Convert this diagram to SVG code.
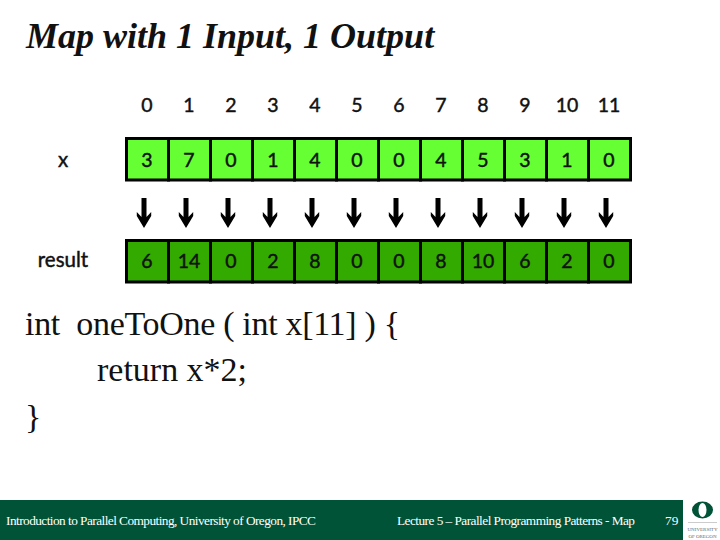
<svg xmlns="http://www.w3.org/2000/svg" width="720" height="540" viewBox="0 0 720 540">
<style>
text{font-family:"Lato","Open Sans",sans-serif;fill:#111}
.n{font-size:19.500px;text-anchor:middle;stroke:#111;stroke-width:.45px}
.c{font-size:19.500px;text-anchor:middle;stroke:#111;stroke-width:.45px}
.l{font-size:20.500px;text-anchor:middle;stroke:#111;stroke-width:.45px}
.a{fill:#6f3;stroke:#000;stroke-width:3}
.b{fill:#3a0;stroke:#000;stroke-width:3}
.code{font-size:34px;font-family:"Liberation Serif",serif}
.f{font-family:"Liberation Serif",serif;fill:#fff;font-size:13.3px}
.ar{fill:#000}
.lg{font-family:"Liberation Serif",serif;font-size:5px;fill:#666;text-anchor:middle}
</style>
<defs>
<path id="arrow" d="M-2.500-15H2.500V4L7.200-1V3L0 15L-7.200 3V-1L-2.500 4Z"/>
</defs>
<rect width="720" height="540" fill="#fff"/>
<text x="26" y="48" style="font-family:'Liberation Serif',serif;font-style:italic;font-weight:700;font-size:36px" fill="#111">Map with 1 Input, 1 Output</text>
<g id="index-labels">
<text class="n" x="147" y="112">0</text><text class="n" x="189" y="112">1</text><text class="n" x="231" y="112">2</text><text class="n" x="273" y="112">3</text><text class="n" x="315" y="112">4</text><text class="n" x="357" y="112">5</text><text class="n" x="399" y="112">6</text><text class="n" x="441" y="112">7</text><text class="n" x="483" y="112">8</text><text class="n" x="525" y="112">9</text><text class="n" x="567" y="112">10</text><text class="n" x="609" y="112">11</text>
</g>
<g id="label-x"><text class="l" x="63" y="167">x</text></g>
<g id="label-result"><text class="l" x="63" y="267">result</text></g>
<g id="row-x">
<rect class="a" x="126.500" y="138.500" width="42" height="41.500"/><rect class="a" x="168.500" y="138.500" width="42" height="41.500"/><rect class="a" x="210.500" y="138.500" width="42" height="41.500"/><rect class="a" x="252.500" y="138.500" width="42" height="41.500"/><rect class="a" x="294.500" y="138.500" width="42" height="41.500"/><rect class="a" x="336.500" y="138.500" width="42" height="41.500"/><rect class="a" x="378.500" y="138.500" width="42" height="41.500"/><rect class="a" x="420.500" y="138.500" width="42" height="41.500"/><rect class="a" x="462.500" y="138.500" width="42" height="41.500"/><rect class="a" x="504.500" y="138.500" width="42" height="41.500"/><rect class="a" x="546.500" y="138.500" width="42" height="41.500"/><rect class="a" x="588.500" y="138.500" width="42" height="41.500"/>
<text class="c" x="147" y="167">3</text><text class="c" x="189" y="167">7</text><text class="c" x="231" y="167">0</text><text class="c" x="273" y="167">1</text><text class="c" x="315" y="167">4</text><text class="c" x="357" y="167">0</text><text class="c" x="399" y="167">0</text><text class="c" x="441" y="167">4</text><text class="c" x="483" y="167">5</text><text class="c" x="525" y="167">3</text><text class="c" x="567" y="167">1</text><text class="c" x="609" y="167">0</text>
</g>
<g id="connectors" class="ar">
<use href="#arrow" x="144" y="213"/><use href="#arrow" x="186" y="213"/><use href="#arrow" x="228" y="213"/><use href="#arrow" x="270" y="213"/><use href="#arrow" x="312" y="213"/><use href="#arrow" x="354" y="213"/><use href="#arrow" x="396" y="213"/><use href="#arrow" x="438" y="213"/><use href="#arrow" x="480" y="213"/><use href="#arrow" x="522" y="213"/><use href="#arrow" x="564" y="213"/><use href="#arrow" x="606" y="213"/>
</g>
<g id="row-result">
<rect class="b" x="126.500" y="240.500" width="42" height="41.500"/><rect class="b" x="168.500" y="240.500" width="42" height="41.500"/><rect class="b" x="210.500" y="240.500" width="42" height="41.500"/><rect class="b" x="252.500" y="240.500" width="42" height="41.500"/><rect class="b" x="294.500" y="240.500" width="42" height="41.500"/><rect class="b" x="336.500" y="240.500" width="42" height="41.500"/><rect class="b" x="378.500" y="240.500" width="42" height="41.500"/><rect class="b" x="420.500" y="240.500" width="42" height="41.500"/><rect class="b" x="462.500" y="240.500" width="42" height="41.500"/><rect class="b" x="504.500" y="240.500" width="42" height="41.500"/><rect class="b" x="546.500" y="240.500" width="42" height="41.500"/><rect class="b" x="588.500" y="240.500" width="42" height="41.500"/>
<text class="c" x="147" y="268">6</text><text class="c" x="189" y="268">14</text><text class="c" x="231" y="268">0</text><text class="c" x="273" y="268">2</text><text class="c" x="315" y="268">8</text><text class="c" x="357" y="268">0</text><text class="c" x="399" y="268">0</text><text class="c" x="441" y="268">8</text><text class="c" x="483" y="268">10</text><text class="c" x="525" y="268">6</text><text class="c" x="567" y="268">2</text><text class="c" x="609" y="268">0</text>
</g>
<g id="code">
<text class="code" x="25" y="335" xml:space="preserve" textLength="375">int  oneToOne ( int x[11] ) {</text>
<text class="code" x="97" y="381" textLength="150">return x*2;</text>
<text class="code" x="25" y="428">}</text>
</g>
<g id="footer">
<rect x="0" y="500" width="683" height="40" fill="#005336"/>
<text class="f" x="6" y="525" textLength="310">Introduction to Parallel Computing, University of Oregon, IPCC</text>
<text class="f" x="397" y="525" textLength="238">Lecture 5 – Parallel Programming Patterns - Map</text>
<text class="f" x="665" y="525">79</text>
</g>
<g id="logo">
<path fill="#005336" fill-rule="evenodd" d="M692 510a10.500 8.500 0 1 0 21 0a10.500 8.500 0 1 0-21 0ZM698.500 510a4 7 0 1 0 8 0a4 7 0 1 0-8 0Z"/>
<rect x="688" y="522" width="29" height="1" fill="#ccc"/>
<text class="lg" x="702.500" y="531" textLength="30">UNIVERSITY</text>
<text class="lg" x="702.500" y="538" textLength="28">OF OREGON</text>
</g>
</svg>
